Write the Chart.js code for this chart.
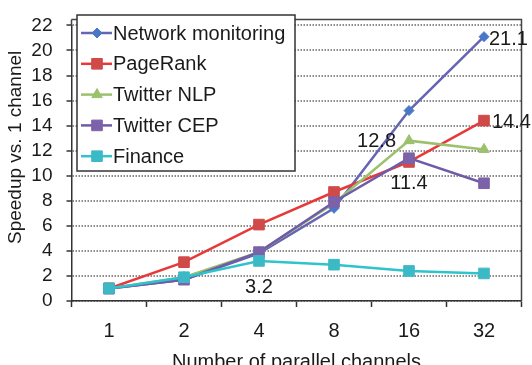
<!DOCTYPE html>
<html>
<head>
<meta charset="utf-8">
<script src="https://cdn.jsdelivr.net/npm/chart.js@4"></script>
<style>
  html, body { margin: 0; padding: 0; background: #fff; }
  #wrap { width: 532px; height: 365px; }
</style>
</head>
<body>
<div id="wrap"><canvas id="chart" width="532" height="365"></canvas></div>
<script>
// channel counts on the x axis
const channels = ['1', '2', '4', '8', '16', '32'];

// speedup vs. 1 channel
const networkMonitoring = [1, 1.7, 3.8, 7.4, 15.2, 21.1];
const pageRank = [1, 3.1, 6.1, 8.7, 11.1, 14.4];
const twitterNlp = [1, 1.9, 3.9, 7.8, 12.8, 12.1];
const twitterCep = [1, 1.7, 3.9, 7.9, 11.4, 9.4];
const finance = [1, 1.9, 3.2, 2.9, 2.4, 2.2];

const yTicks = [0, 2, 4, 6, 8, 10, 12, 14, 16, 18, 20, 22];

// the few values printed on the chart: [dataset index, point index, text, dx, dy, align]
const callouts = [
    [0, 5, '21.1', 5, 3, 'left'],
    [1, 5, '14.4', 8, 2, 'left'],
    [2, 4, '12.8', -13, 1, 'right'],
    [3, 4, '11.4', 0, 25, 'center'],
    [4, 2, '3.2', 0, 27, 'center'],
];

const FONT = '"Liberation Sans", Arial, sans-serif';
const INK = '#1a1a1a';

function series(label, data, line, marker, style, radius, order) {
    return {
        label: label,
        data: data,
        borderColor: line,
        borderWidth: 2.5,
        backgroundColor: marker,
        pointBackgroundColor: marker,
        pointBorderColor: marker,
        pointBorderWidth: 1,
        pointStyle: style,
        pointRadius: radius,
        tension: 0,
        order: order,
    };
}

// plot frame that sits a little above the top gridline
const framePlugin = {
    id: 'frame',
    beforeDatasetsDraw(chart) {
        const a = chart.chartArea;
        const ctx = chart.ctx;
        ctx.save();
        ctx.strokeStyle = '#444';
        ctx.lineWidth = 1.5;
        ctx.beginPath();
        ctx.moveTo(a.left, a.top - 6);
        ctx.lineTo(a.right, a.top - 6);
        ctx.lineTo(a.right, a.bottom);
        ctx.moveTo(a.left, a.top - 6);
        ctx.lineTo(a.left, a.top);
        ctx.stroke();
        ctx.restore();
    }
};

// value labels next to some points
const calloutPlugin = {
    id: 'callouts',
    afterDatasetsDraw(chart) {
        const ctx = chart.ctx;
        ctx.save();
        ctx.font = '20px ' + FONT;
        ctx.fillStyle = INK;
        ctx.textBaseline = 'middle';
        callouts.forEach(([ds, idx, text, dx, dy, align]) => {
            const pt = chart.getDatasetMeta(ds).data[idx];
            ctx.textAlign = align;
            ctx.fillText(text, pt.x + dx, pt.y + dy);
        });
        ctx.restore();
    }
};

// boxed legend drawn inside the plot, top left
const boxLegend = {
    id: 'boxLegend',
    afterDraw(chart) {
        const ctx = chart.ctx;
        const x0 = 77, y0 = 15, w = 218, h = 156;
        ctx.save();
        ctx.fillStyle = '#fff';
        ctx.fillRect(x0, y0, w, h);
        ctx.strokeStyle = '#333';
        ctx.lineWidth = 1.5;
        ctx.strokeRect(x0, y0, w, h);
        ctx.font = '20px ' + FONT;
        ctx.textBaseline = 'middle';
        ctx.textAlign = 'left';
        chart.data.datasets.forEach((ds, i) => {
            const y = 33 + i * 30.8;
            ctx.strokeStyle = ds.borderColor;
            ctx.lineWidth = ds.borderWidth;
            ctx.beginPath();
            ctx.moveTo(81, y);
            ctx.lineTo(112, y);
            ctx.stroke();
            ctx.fillStyle = ds.pointBackgroundColor;
            ctx.strokeStyle = ds.pointBorderColor;
            ctx.lineWidth = 1;
            Chart.helpers.drawPoint(ctx, { pointStyle: ds.pointStyle, radius: ds.pointRadius, borderWidth: 1, rotation: 0 }, 97, y);
            ctx.fillStyle = INK;
            ctx.fillText(ds.label, 113, y + 1);
        });
        ctx.restore();
    }
};

new Chart(document.getElementById('chart'), {
    type: 'line',
    data: {
        labels: channels,
        datasets: [
            series('Network monitoring', networkMonitoring, '#6565b2', '#4a78c6', 'rectRot', 5, 5),
            series('PageRank', pageRank, '#e8393a', '#cf4a48', 'rect', 7.5, 4),
            series('Twitter NLP', twitterNlp, '#9cc16c', '#9cc16c', 'triangle', 6, 3),
            series('Twitter CEP', twitterCep, '#6f5ca8', '#7c62a8', 'rect', 7.5, 2),
            series('Finance', finance, '#2fc3cc', '#3cb9c6', 'rect', 7.5, 1),
        ]
    },
    options: {
        responsive: false,
        animation: false,
        events: [],
        layout: { padding: { top: 10.5, right: 10.5, left: 0, bottom: 0 } },
        plugins: {
            legend: { display: false },
            tooltip: { enabled: false },
        },
        scales: {
            x: {
                offset: true,
                afterFit(scale) { scale.height = 64; },
                grid: {
                    offset: true,
                    drawOnChartArea: false,
                    tickLength: 6,
                    tickColor: '#333',
                    tickWidth: 1.5,
                },
                border: { color: '#333', width: 1.5 },
                ticks: {
                    padding: 12,
                    color: INK,
                    font: { family: FONT, size: 20 },
                    maxRotation: 0,
                },
                title: {
                    display: true,
                    text: 'Number of parallel channels',
                    color: INK,
                    font: { family: FONT, size: 20 },
                    padding: { top: 0, bottom: -9 },
                },
            },
            y: {
                min: 0,
                max: 22,
                afterFit(scale) { scale.width = 71.5; },
                afterBuildTicks(scale) { scale.ticks = yTicks.map(v => ({ value: v })); },
                grid: {
                    color: '#8c8c8c',
                    lineWidth: 2,
                    tickLength: 5,
                    tickColor: '#333',
                    tickWidth: 1.5,
                    tickBorderDash: [],
                },
                border: { color: '#333', width: 1.5, dash: [1.5, 1.5] },
                ticks: {
                    autoSkip: false,
                    padding: 14,
                    color: INK,
                    font: { family: FONT, size: 19 },
                },
                title: {
                    display: true,
                    // leading spaces nudge the title up, as in the original
                    text: '      Speedup vs. 1 channel',
                    color: INK,
                    font: { family: FONT, size: 19 },
                    padding: { top: 4, bottom: 0 },
                },
            },
        },
    },
    plugins: [framePlugin, calloutPlugin, boxLegend],
});
</script>
</body>
</html>
